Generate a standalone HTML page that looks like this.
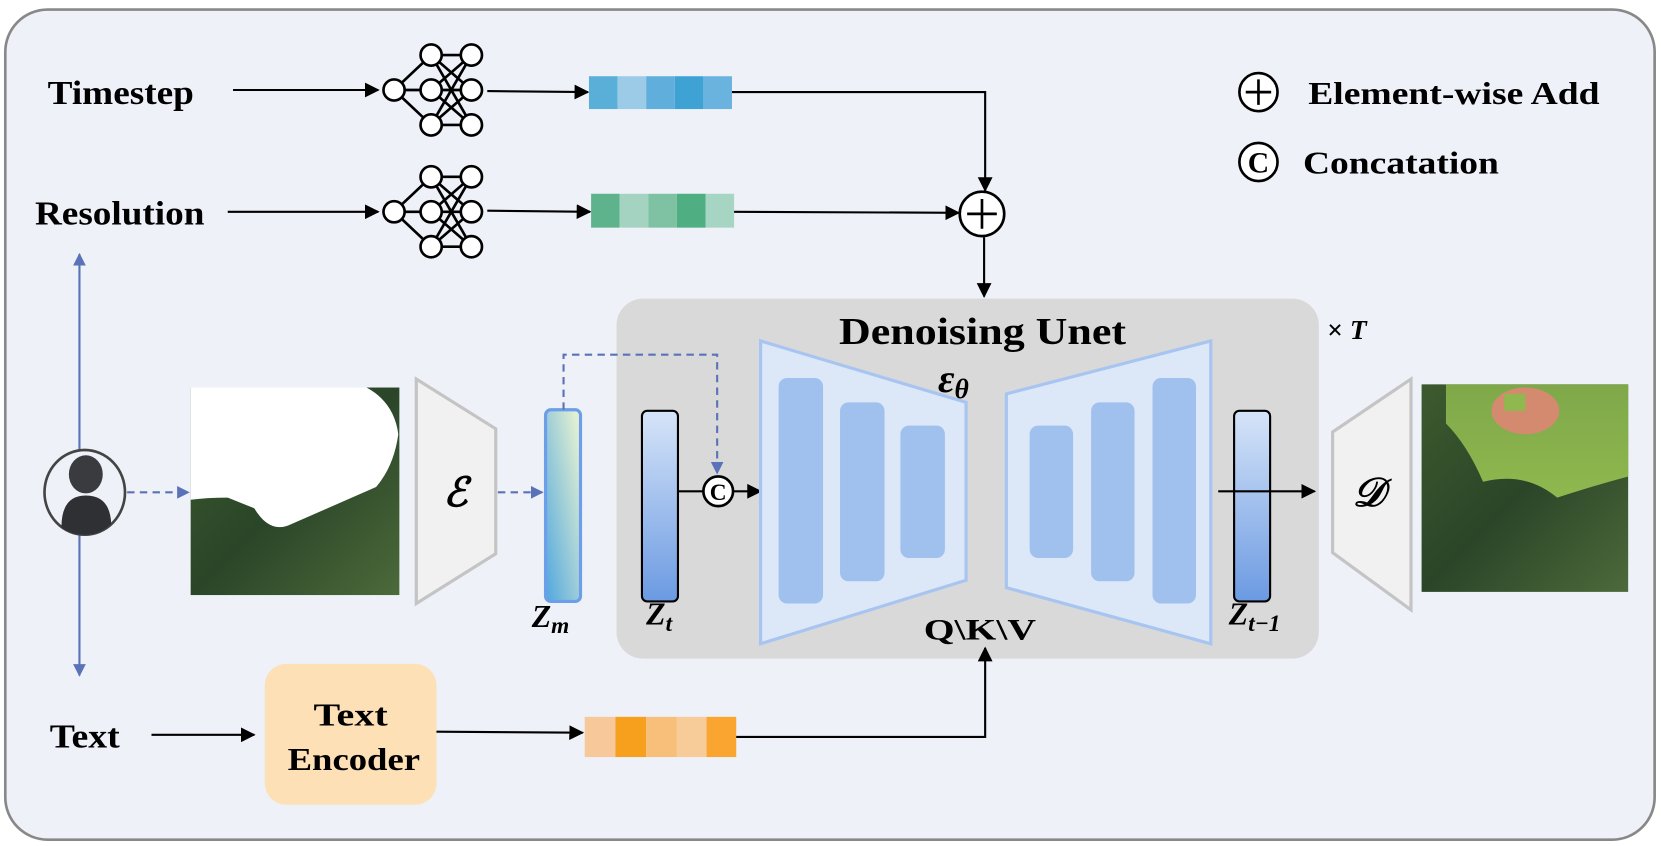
<!DOCTYPE html>
<html><head><meta charset="utf-8"><style>
html,body{margin:0;padding:0;background:#fff;}
svg{display:block;}
text{font-family:"Liberation Serif",serif;font-weight:bold;fill:#000;}
</style></head><body>
<svg width="1661" height="846" viewBox="0 0 1568 799" preserveAspectRatio="none" xmlns="http://www.w3.org/2000/svg">
<defs>
<marker id="ab" viewBox="0 0 10 10" refX="9" refY="5" markerWidth="7" markerHeight="7" orient="auto"><path d="M0,0L10,5L0,10z" fill="#000"/></marker>
<marker id="abl" viewBox="0 0 10 10" refX="9" refY="5" markerWidth="6" markerHeight="6" orient="auto"><path d="M0,0L10,5L0,10z" fill="#5a73b8"/></marker>
<linearGradient id="gz" x1="0" y1="0" x2="0" y2="1"><stop offset="0" stop-color="#d6e4f8"/><stop offset="1" stop-color="#6b9ae2"/></linearGradient>
<linearGradient id="gm" x1="0" y1="1" x2="1" y2="0"><stop offset="0" stop-color="#4fa6e0"/><stop offset="1" stop-color="#eef6d0"/></linearGradient>
<linearGradient id="tree" x1="0" y1="0" x2="1" y2="1"><stop offset="0" stop-color="#3d5a2e"/><stop offset="0.5" stop-color="#2a4528"/><stop offset="1" stop-color="#4c6a3a"/></linearGradient>
<linearGradient id="grass" x1="0" y1="0" x2="0" y2="1"><stop offset="0" stop-color="#7fa84a"/><stop offset="1" stop-color="#8fb84e"/></linearGradient>
<g id="net" fill="#fff" stroke="#000" stroke-width="2.5">
<path d="M12,45L47,12M12,45L47,45M12,45L47,78M47,12L85,12M47,45L85,45M47,78L85,78M47,12L85,45M47,12L85,78M47,45L85,12M47,45L85,78M47,78L85,12M47,78L85,45" fill="none"/>
<circle cx="12" cy="45" r="10"/><circle cx="47" cy="12" r="10"/><circle cx="47" cy="45" r="10"/><circle cx="47" cy="78" r="10"/><circle cx="85" cy="12" r="10"/><circle cx="85" cy="45" r="10"/><circle cx="85" cy="78" r="10"/>
</g>
</defs>
<rect x="5" y="9" width="1557" height="784" rx="40" fill="#eef1f8" stroke="#888" stroke-width="2.5"/>

<!-- timestep -->
<text x="45" y="98" font-size="32" textLength="138" lengthAdjust="spacingAndGlyphs">Timestep</text>
<line x1="220" y1="85" x2="357" y2="85" stroke="#000" stroke-width="2" marker-end="url(#ab)"/>
<use href="#net" x="360" y="40"/>
<line x1="460" y1="86" x2="555" y2="87" stroke="#000" stroke-width="2" marker-end="url(#ab)"/>
<rect x="556" y="72" width="27" height="31" fill="#5aafd9"/><rect x="583" y="72" width="27" height="31" fill="#9ccbe8"/><rect x="610" y="72" width="27" height="31" fill="#60aedb"/><rect x="637" y="72" width="27" height="31" fill="#3fa2d4"/><rect x="664" y="72" width="27" height="31" fill="#6bb3df"/>
<polyline points="691,87 930,87 930,180" fill="none" stroke="#000" stroke-width="2" marker-end="url(#ab)"/>

<!-- resolution -->
<text x="33" y="212" font-size="32" textLength="160" lengthAdjust="spacingAndGlyphs">Resolution</text>
<line x1="215" y1="200" x2="357" y2="200" stroke="#000" stroke-width="2" marker-end="url(#ab)"/>
<use href="#net" x="360" y="155"/>
<line x1="460" y1="199" x2="557" y2="200" stroke="#000" stroke-width="2" marker-end="url(#ab)"/>
<rect x="558" y="183" width="27" height="32" fill="#5fb38c"/><rect x="585" y="183" width="27" height="32" fill="#a5d3c1"/><rect x="612" y="183" width="27" height="32" fill="#7fc1a3"/><rect x="639" y="183" width="27" height="32" fill="#4fae82"/><rect x="666" y="183" width="27" height="32" fill="#a7d5c3"/>
<line x1="693" y1="200" x2="905" y2="201" stroke="#000" stroke-width="2" marker-end="url(#ab)"/>
<circle cx="927" cy="202" r="21" fill="#fff" stroke="#000" stroke-width="2.5"/>
<path d="M913,202H941M927,188V216" stroke="#000" stroke-width="2.5"/>
<line x1="929" y1="224" x2="929" y2="280" stroke="#000" stroke-width="2" marker-end="url(#ab)"/>

<!-- legend -->
<circle cx="1188" cy="87" r="18" fill="#fff" stroke="#000" stroke-width="2.5"/>
<path d="M1176,87H1200M1188,75V99" stroke="#000" stroke-width="2.5"/>
<text x="1235" y="98" font-size="30" textLength="275" lengthAdjust="spacingAndGlyphs">Element-wise Add</text>
<circle cx="1188" cy="153" r="18" fill="#fff" stroke="#000" stroke-width="2.5"/>
<text x="1188" y="163" font-size="28" text-anchor="middle">C</text>
<text x="1230" y="164" font-size="30" textLength="185" lengthAdjust="spacingAndGlyphs">Concatation</text>

<!-- left vertical -->
<line x1="75" y1="425" x2="75" y2="240" stroke="#5a73b8" stroke-width="2" marker-end="url(#abl)"/>
<line x1="75" y1="505" x2="75" y2="638" stroke="#5a73b8" stroke-width="2" marker-end="url(#abl)"/>
<ellipse cx="80" cy="465" rx="38" ry="40" fill="#eef1f8" stroke="#444" stroke-width="2.5"/>
<ellipse cx="81" cy="448" rx="16" ry="18" fill="#3a3b3e"/>
<path d="M58,498Q58,468 81,468Q104,468 105,495Q94,505 81,505Q66,505 58,498Z" fill="#2f3033"/>
<line x1="120" y1="465" x2="178" y2="465" stroke="#5a73b8" stroke-width="2" stroke-dasharray="7,5" marker-end="url(#abl)"/>

<!-- input image -->
<rect x="180" y="366" width="197" height="196" fill="url(#tree)"/>
<path d="M180,366H346Q372,380 376,410Q372,440 355,460L275,495Q255,505 240,480L215,470Q195,470 180,472Z" fill="#fff"/>

<!-- E -->
<polygon points="393,358 468,405 468,523 393,570" fill="#f1f1f1" stroke="#c4c4c4" stroke-width="3"/>
<text x="430" y="478" font-size="38" font-style="italic" text-anchor="middle">ℰ</text>
<line x1="470" y1="465" x2="512" y2="465" stroke="#5a73b8" stroke-width="2" stroke-dasharray="7,5" marker-end="url(#abl)"/>

<!-- gray box -->
<rect x="582" y="282" width="663" height="340" rx="25" fill="#d9d9d9"/>
<text x="792" y="325" font-size="36" textLength="271" lengthAdjust="spacingAndGlyphs">Denoising Unet</text>
<text x="900" y="370" font-size="38" font-style="italic" text-anchor="middle">ε<tspan font-size="26" dy="6">θ</tspan></text>
<text x="1253" y="320" font-size="26">× <tspan font-style="italic">T</tspan></text>

<!-- Zm -->
<rect x="515" y="387" width="33" height="181" rx="5" fill="url(#gm)" stroke="#6d9ee9" stroke-width="3"/>
<polyline points="532,387 532,335 677,335 677,447" fill="none" stroke="#5a73b8" stroke-width="2" stroke-dasharray="7,5" marker-end="url(#abl)"/>
<text x="502" y="592" font-size="30" font-style="italic">Z<tspan font-size="22" dy="6">m</tspan></text>

<!-- Zt -->
<rect x="606" y="388" width="34" height="180" rx="5" fill="url(#gz)" stroke="#000" stroke-width="2"/>
<text x="610" y="590" font-size="30" font-style="italic">Z<tspan font-size="22" dy="6">t</tspan></text>
<line x1="640" y1="464" x2="664" y2="464" stroke="#000" stroke-width="2"/>
<circle cx="678" cy="464" r="14" fill="#fff" stroke="#000" stroke-width="2.5"/>
<text x="678" y="472" font-size="22" text-anchor="middle">C</text>
<line x1="692" y1="464" x2="718" y2="464" stroke="#000" stroke-width="2" marker-end="url(#ab)"/>

<!-- unet -->
<polygon points="718,322 912,380 912,548 718,608" fill="#dce8f8" stroke="#a7c5f0" stroke-width="3"/>
<rect x="735" y="357" width="42" height="213" rx="8" fill="#a0c0ee"/>
<rect x="793" y="380" width="42" height="169" rx="8" fill="#a0c0ee"/>
<rect x="850" y="402" width="42" height="125" rx="8" fill="#a0c0ee"/>
<polygon points="950,372 1143,322 1143,608 950,555" fill="#dce8f8" stroke="#a7c5f0" stroke-width="3"/>
<rect x="972" y="402" width="41" height="125" rx="8" fill="#a0c0ee"/>
<rect x="1030" y="380" width="41" height="169" rx="8" fill="#a0c0ee"/>
<rect x="1088" y="357" width="41" height="213" rx="8" fill="#a0c0ee"/>
<text x="872" y="604" font-size="28" textLength="106" lengthAdjust="spacingAndGlyphs">Q\K\V</text>

<!-- Zt-1 -->
<rect x="1165" y="388" width="34" height="180" rx="5" fill="url(#gz)" stroke="#000" stroke-width="2"/>
<line x1="1150" y1="464" x2="1241" y2="464" stroke="#000" stroke-width="2" marker-end="url(#ab)"/>
<text x="1160" y="590" font-size="30" font-style="italic">Z<tspan font-size="22" dy="6">t−1</tspan></text>

<!-- D -->
<polygon points="1332,358 1258,408 1258,522 1332,576" fill="#f1f1f1" stroke="#c4c4c4" stroke-width="3"/>
<text x="1292" y="478" font-size="38" font-style="italic" text-anchor="middle">𝒟</text>

<!-- output image -->
<rect x="1342" y="363" width="195" height="196" fill="url(#tree)"/>
<path d="M1365,363H1537V450Q1500,460 1470,470Q1440,445 1400,455Q1385,420 1365,400Z" fill="url(#grass)"/>
<ellipse cx="1440" cy="388" rx="32" ry="22" fill="#d48a6e"/>
<rect x="1420" y="372" width="20" height="16" fill="#8fb84e"/>

<!-- text branch -->
<text x="47" y="706" font-size="32" textLength="66" lengthAdjust="spacingAndGlyphs">Text</text>
<line x1="143" y1="694" x2="240" y2="694" stroke="#000" stroke-width="2" marker-end="url(#ab)"/>
<rect x="250" y="627" width="162" height="133" rx="20" fill="#fde0b6"/>
<text x="331" y="685" font-size="30" text-anchor="middle" textLength="70" lengthAdjust="spacingAndGlyphs">Text</text>
<text x="334" y="727" font-size="30" text-anchor="middle" textLength="125" lengthAdjust="spacingAndGlyphs">Encoder</text>
<line x1="412" y1="691" x2="550" y2="692" stroke="#000" stroke-width="2" marker-end="url(#ab)"/>
<rect x="552" y="677" width="29" height="38" fill="#f7c99a"/><rect x="581" y="677" width="29" height="38" fill="#f7a01e"/><rect x="610" y="677" width="29" height="38" fill="#f8bf7b"/><rect x="639" y="677" width="28" height="38" fill="#f7cc98"/><rect x="667" y="677" width="28" height="38" fill="#f9a52f"/>
<polyline points="695,696 930,696 930,612" fill="none" stroke="#000" stroke-width="2" marker-end="url(#ab)"/>
</svg>
</body></html>
